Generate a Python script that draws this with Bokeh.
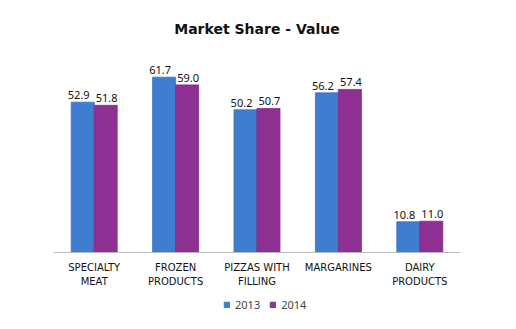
from bokeh.plotting import figure
from bokeh.models import FactorRange, Range1d, ColumnDataSource, Legend, LegendItem, LabelSet
from bokeh.core.properties import value
from bokeh.transform import dodge
from bokeh.embed import file_html
from bokeh.resources import INLINE

categories = ["SPECIALTY\nMEAT", "FROZEN\nPRODUCTS", "PIZZAS WITH\nFILLING", "MARGARINES", "DAIRY\nPRODUCTS"]
values_2013 = [52.9, 61.7, 50.2, 56.2, 10.8]
values_2014 = [51.8, 59.0, 50.7, 57.4, 11.0]
series = ["2013", "2014"]

src = ColumnDataSource(dict(
    cat=categories,
    v13=values_2013,
    v14=values_2014,
    t13=[f"{v:.1f}" for v in values_2013],
    t14=[f"{v:.1f}" for v in values_2014],
))

FONT = "Noto Sans"
C13 = "#3F7ECE"
C14 = "#8E2F92"

p = figure(width=516, height=329, x_range=FactorRange(*categories), y_range=Range1d(-25.37, 70.4),
           output_backend="svg", toolbar_location=None,
           min_border_left=53, min_border_right=56, min_border_top=52, min_border_bottom=5)
p.title.text = "Market Share - Value"
p.title.align = "center"
p.title.text_font = "DejaVu Sans"
p.title.text_font_size = "14px"
p.title.text_font_style = "bold"
p.title.text_color = "#111111"
p.title.standoff = 32
p.outline_line_color = None
p.xgrid.visible = False
p.ygrid.visible = False
p.yaxis.visible = False

off = 0.141
w = 0.283
r13 = p.vbar(x=dodge("cat", -off, range=p.x_range), top="v13", width=w, source=src,
             fill_color=C13, line_color="#3A74BE", line_width=0.8)
r14 = p.vbar(x=dodge("cat", off, range=p.x_range), top="v14", width=w, source=src,
             fill_color=C14, line_color="#842A88", line_width=0.8)

for col, txt, o, xo in (("v13", "t13", -off, -4), ("v14", "t14", off, 1)):
    lab = LabelSet(x=dodge("cat", o, range=p.x_range), y=col, text=txt, source=src,
                   text_align="center", text_baseline="bottom", y_offset=3, x_offset=xo,
                   text_font=value(FONT), text_font_size=value("11px"), text_color="#111111")
    p.add_layout(lab)

ax = p.xaxis[0]
ax.fixed_location = 0
ax.axis_line_color = "#BBBBBB"
ax.major_tick_line_color = None
ax.minor_tick_line_color = None
ax.major_label_text_font = "DejaVu Sans"
ax.major_label_text_font_size = "10px"
ax.major_label_text_color = "#111111"
ax.major_label_standoff = 4

legend = Legend(items=[LegendItem(label=series[0], renderers=[r13]),
                       LegendItem(label=series[1], renderers=[r14])],
                orientation="horizontal", location=(170, 12),
                label_text_font=FONT, label_text_font_size="11px",
                glyph_width=7, glyph_height=7, spacing=9, padding=2, margin=0,
                label_standoff=5,
                border_line_color=None, background_fill_alpha=0)
p.add_layout(legend, "center")

open("out.html", "w").write(file_html(p, INLINE))
